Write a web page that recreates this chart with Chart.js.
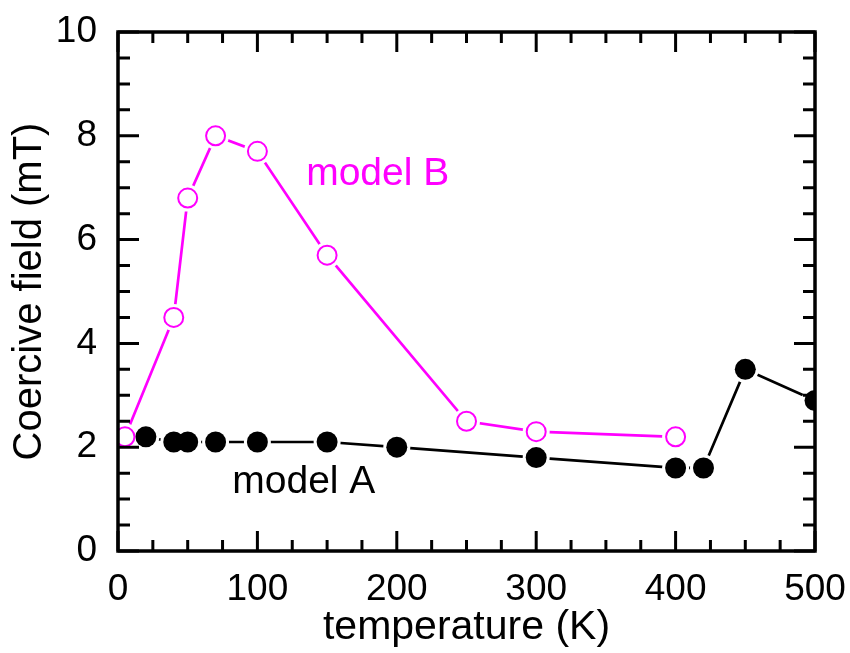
<!DOCTYPE html>
<html>
<head>
<meta charset="utf-8">
<script src="https://cdn.jsdelivr.net/npm/chart.js@4.4.1/dist/chart.umd.min.js"></script>
<style>
  html, body { margin: 0; padding: 0; background: #fff; }
</style>
</head>
<body>
<canvas id="coercive" width="850" height="653"></canvas>
<script>
// coercive field vs temperature, two models
const tempA = [20, 40, 50, 70, 100, 150, 200, 300, 400, 420, 450, 500];
const fieldA = [2.2, 2.1, 2.1, 2.1, 2.1, 2.1, 2.0, 1.8, 1.6, 1.6, 3.5, 2.9];
const tempB = [5, 40, 50, 70, 100, 150, 250, 300, 400];
const fieldB = [2.2, 4.5, 6.8, 8.0, 7.7, 5.7, 2.5, 2.3, 2.2];
const xTicks = [0, 100, 200, 300, 400, 500];
const yTicks = [0, 2, 4, 6, 8, 10];

const FONT = '"Liberation Sans", Arial, sans-serif';
const MAGENTA = '#ff00ff';

const toPoints = (xs, ys) => xs.map((x, i) => ({ x: x, y: ys[i] }));

// markers: white halo first so lines stop short of each symbol, then the symbols
const markerPlugin = {
    id: 'markers',
    afterDatasetsDraw(chart) {
        const ctx = chart.ctx;
        const area = chart.chartArea;
        ctx.save();
        ctx.beginPath();
        ctx.rect(area.left, area.top, area.right - area.left, area.bottom - area.top);
        ctx.clip();
        const metas = chart.data.datasets.map((ds, i) => chart.getDatasetMeta(i));
        metas.forEach((meta) => {
            meta.data.forEach((pt) => {
                ctx.fillStyle = '#fff';
                ctx.beginPath();
                ctx.arc(pt.x, pt.y, 13.5, 0, Math.PI * 2);
                ctx.fill();
            });
        });
        metas.forEach((meta, i) => {
            const ds = chart.data.datasets[i];
            meta.data.forEach((pt) => {
                ctx.beginPath();
                if (ds.filled) {
                    ctx.arc(pt.x, pt.y, 10.5, 0, Math.PI * 2);
                    ctx.fillStyle = ds.borderColor;
                    ctx.fill();
                } else {
                    ctx.arc(pt.x, pt.y, 9.5, 0, Math.PI * 2);
                    ctx.strokeStyle = ds.borderColor;
                    ctx.lineWidth = 2;
                    ctx.stroke();
                }
            });
        });
        ctx.restore();
    }
};

// box frame with inward ticks on all four sides, plus the series labels
const framePlugin = {
    id: 'frame',
    afterDraw(chart) {
        const ctx = chart.ctx;
        const { left, right, top, bottom } = chart.chartArea;
        const xs = chart.scales.x;
        const ys = chart.scales.y;
        ctx.save();
        ctx.strokeStyle = '#000';
        ctx.lineCap = 'butt';
        ctx.lineWidth = 3;
        for (let v = 0; v <= 500; v += 25) {
            const px = xs.getPixelForValue(v);
            const len = v % 100 === 0 ? 20 : 11;
            ctx.beginPath();
            ctx.moveTo(px, bottom); ctx.lineTo(px, bottom - len);
            ctx.moveTo(px, top); ctx.lineTo(px, top + len);
            ctx.stroke();
        }
        for (let v = 0; v <= 10; v += 0.5) {
            const py = ys.getPixelForValue(v);
            const len = v % 2 === 0 ? 21 : 12;
            ctx.beginPath();
            ctx.moveTo(left, py); ctx.lineTo(left + len, py);
            ctx.moveTo(right, py); ctx.lineTo(right - len, py);
            ctx.stroke();
        }
        ctx.lineWidth = 3.5;
        ctx.strokeRect(left, top, right - left, bottom - top);

        ctx.font = '39px ' + FONT;
        ctx.textBaseline = 'alphabetic';
        ctx.textAlign = 'left';
        ctx.fillStyle = MAGENTA;
        ctx.fillText('model B', xs.getPixelForValue(135), ys.getPixelForValue(7.05));
        ctx.fillStyle = '#000';
        ctx.fillText('model A', xs.getPixelForValue(82), ys.getPixelForValue(1.12));
        ctx.restore();
    }
};

new Chart(document.getElementById('coercive'), {
    type: 'scatter',
    data: {
        datasets: [
            {
                label: 'model A',
                data: toPoints(tempA, fieldA),
                showLine: true,
                borderColor: '#000',
                borderWidth: 2.7,
                pointStyle: false,
                filled: true,
                clip: 0
            },
            {
                label: 'model B',
                data: toPoints(tempB, fieldB),
                showLine: true,
                borderColor: MAGENTA,
                borderWidth: 2.7,
                pointStyle: false,
                filled: false,
                clip: 0
            }
        ]
    },
    options: {
        responsive: false,
        devicePixelRatio: 1,
        animation: false,
        layout: { padding: { top: 32, right: 35, left: 0, bottom: 0 } },
        plugins: {
            legend: { display: false },
            tooltip: { enabled: false }
        },
        scales: {
            x: {
                type: 'linear',
                min: 0,
                max: 500,
                grid: { display: false, drawTicks: false },
                border: { display: false },
                afterBuildTicks: (s) => { s.ticks = xTicks.map((v) => ({ value: v })); },
                afterFit: (s) => {
                    s.height = 102;
                    s.paddingLeft = 0;
                    s.paddingRight = 0;
                },
                ticks: {
                    color: '#000',
                    padding: 17,
                    maxRotation: 0,
                    font: { family: FONT, size: 37 }
                },
                title: {
                    display: true,
                    text: 'temperature (K)',
                    color: '#000',
                    padding: { top: 0, bottom: 1 },
                    font: { family: FONT, size: 41 }
                }
            },
            y: {
                type: 'linear',
                min: 0,
                max: 10,
                grid: { display: false, drawTicks: false },
                border: { display: false },
                afterBuildTicks: (s) => { s.ticks = yTicks.map((v) => ({ value: v })); },
                afterFit: (s) => {
                    s.width = 118;
                    s.paddingTop = 0;
                    s.paddingBottom = 0;
                },
                ticks: {
                    color: '#000',
                    padding: 21,
                    font: { family: FONT, size: 37 }
                },
                title: {
                    display: true,
                    text: 'Coercive field (mT)',
                    color: '#000',
                    padding: { top: 6, bottom: 0 },
                    font: { family: FONT, size: 40 }
                }
            }
        }
    },
    plugins: [markerPlugin, framePlugin]
});
</script>
</body>
</html>
